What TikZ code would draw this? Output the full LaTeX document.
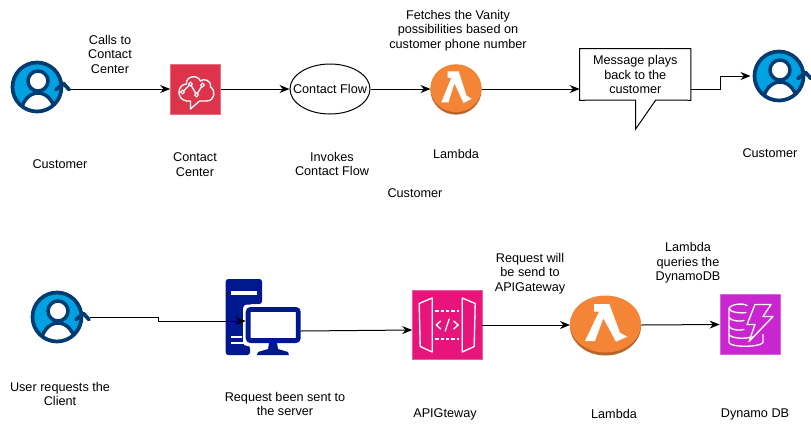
\documentclass[tikz,border=0pt]{standalone}
\usepackage{fontspec}
\setmainfont{Liberation Sans}
\usetikzlibrary{arrows.meta,shapes.geometric}
\definecolor{ublue}{HTML}{00A1E0}
\definecolor{udark}{HTML}{003B71}
\definecolor{ccred}{HTML}{DD344C}
\definecolor{lorange}{HTML}{F58536}
\definecolor{lshade}{HTML}{B8652C}
\definecolor{apipink}{HTML}{E7157B}
\definecolor{dynpurple}{HTML}{C925D1}
\definecolor{srvblue}{HTML}{00188F}
\tikzset{
  x=0.75pt,y=-0.75pt,
  lbl/.style={font=\fontsize{9.5}{10.9}\selectfont,align=center,text=black,inner sep=0pt},
  conn/.style={draw=black,line width=0.75pt,-{Stealth[length=7.5pt,width=6pt]}},
  slot/.style={inner sep=0pt,minimum width=#1,outer sep=0pt},
  wln/.style={draw=white,line width=1pt,line join=round,line cap=round},
  pics/usericon/.style={code={
    \begin{scope}
      \clip (0,0) circle[radius=24.5];
      \fill[ublue] (0,0) circle[radius=24.5];
      \fill[white,draw=udark,line width=2.6pt] (1,27) ellipse[x radius=17,y radius=21];
    \end{scope}
    \draw[udark,line width=2.8pt] (0,0) circle[radius=24.5];
    \fill[white,draw=udark,line width=2.6pt] (1,-6) circle[radius=10];
    \draw[udark,line width=2.8pt,line cap=round,line join=round] (19,2.5) -- (26.5,-3.5) -- (32,2.5);
  }},
  pics/lambdaicon/.style={code={
    \fill[lshade] (0,1) ellipse[x radius=35.5,y radius=29.5];
    \fill[lorange] (0,-1) ellipse[x radius=35.5,y radius=28.5];
    \fill[white] (-11.5,-21) -- (3.8,-21) -- (14.5,7.7) -- (21.8,11.7) -- (10.5,16.7)
      -- (-2.2,-6.7) -- (-10.5,16) -- (-20.5,16) -- (-6.5,-13.3) -- (-11.5,-13.3) -- cycle;
  }},
}
\begin{document}
\begin{tikzpicture}
\useasboundingbox[fill=white] (0,0) rectangle (811,430);

% ---- top row nodes
\node[slot=43.5pt,minimum height=40pt] (cust1) at (41,89) {};
\pic at (37,87) {usericon};
\node[fill=ccred,draw=ccred!70!white,line width=0.5pt,minimum width=37.5pt,minimum height=37.5pt,inner sep=0pt] (cc) at (195.5,89) {};
\begin{scope}[shift={(195.5,89)}]
  \draw[wln] (-5,12) -- (-5,20) -- (4,12) -- (11,12)
    .. controls (19,12) and (21,2) .. (15,-2)
    .. controls (16,-9) and (8,-11) .. (5,-8)
    .. controls (2,-15) and (-10,-13) .. (-9,-5)
    .. controls (-18,-5) and (-20,10) .. (-9,12) -- (-5,12);
  \draw[wln] (-13,3) -- (-5,-5) -- (1,6) -- (7,-4);
  \foreach \p in {(-13,3),(-5,-5),(1,6),(7,-4)} \fill[ccred,draw=white,line width=0.7pt] \p circle[radius=1.9];
\end{scope}
\node[draw=black,fill=white,ellipse,line width=0.75pt,minimum width=60pt,minimum height=37.5pt,inner sep=0pt,lbl] (flow) at (330,89) {\makebox[0pt]{Contact Flow}};
\node[slot=38.25pt,minimum height=37.5pt] (lam1) at (456,89) {};
\pic[xscale=0.72,yscale=0.84] at (456,89) {lambdaicon};
\node[lbl,minimum width=83pt,minimum height=38.25pt] (msg) at (635.3,74.5) {Message plays\\back to the\\customer};
\draw[black,line width=0.75pt,line join=miter] (msg.north west) -- (msg.north east) -- (msg.south east)
  -- (655.7,100) -- (635.7,129) -- (635.7,100) -- (msg.south west) -- cycle;
\node[slot=42.75pt,minimum height=40pt] (cust2) at (779,76) {};
\pic at (779,76) {usericon};

% ---- top labels
\node[lbl] (tcalls) at (110,54) {Calls to\\Contact\\Center};
\node[lbl] (tcust1) at (60,164) {Customer};
\node[lbl] (tcc) at (195,164.5) {Contact\\Center};
\node[lbl] (tinv) at (332,164) {Invokes\\Contact Flow};
\node[lbl] (tlam1) at (456,154) {Lambda};
\node[lbl] (tcustm) at (415,193) {Customer};
\node[lbl] (tcust2) at (770,153) {Customer};
\node[lbl] (tfetch) at (458,30.5) {Fetches the Vanity\\possibilities based on\\customer phone number};

% ---- bottom row nodes
\node[slot=43.5pt,minimum height=40pt] (user) at (61,317) {};
\pic at (57,317) {usericon};
% server
\fill[srvblue,rounded corners=2pt] (225.7,279) -- (262,279) -- (262,304) -- (250,304) -- (245,309) -- (245,343) -- (250,346) -- (250,355) -- (225.7,355) -- cycle;
\fill[white] (231,290.5) rectangle (257,294.5);
\fill[white] (231,336) rectangle (242,338);
\fill[white] (231,342) rectangle (247,344);
\fill[white,rounded corners=3pt] (243,304.5) rectangle (303,346);
\node[fill=white,draw=srvblue,line width=3.6pt,rounded corners=2pt,minimum width=37.6pt,minimum height=23.4pt,inner sep=0pt] (srv) at (273.2,325) {};
\fill[srvblue] (269,343) -- (277,343) -- (278,349) -- (288,352) -- (289,355) -- (257,355) -- (258,352) -- (268,349) -- cycle;
% api gateway
\node[fill=apipink,draw=apipink!70!white,line width=0.5pt,minimum width=52pt,minimum height=52pt,inner sep=0pt] (api) at (447.2,325) {};
\begin{scope}[shift={(447.2,325)}]
  \draw[wln] (-15,-27) -- (-28,-21.5) -- (-27,21.5) -- (-15,27) -- cycle;
  \draw[wln] (15,-27) -- (28,-21.5) -- (27,21.5) -- (15,27) -- cycle;
  \draw[wln,dash pattern=on 2.5pt off 1.5pt,line cap=butt] (-12,-14) -- (12,-14);
  \draw[wln,dash pattern=on 2.5pt off 1.5pt,line cap=butt] (-12,14) -- (12,14);
  \draw[wln] (-6.5,-4) -- (-11,0) -- (-6.5,4);
  \draw[wln] (6.5,-4) -- (11,0) -- (6.5,4);
  \draw[wln] (2,-6) -- (-2,6);
\end{scope}
\node[slot=53.25pt,minimum height=45pt] (lam2) at (605.5,325) {};
\pic at (605.5,325) {lambdaicon};
\node[fill=dynpurple,draw=dynpurple!70!white,line width=0.5pt,minimum width=45pt,minimum height=45pt,inner sep=0pt] (dyn) at (750,324.5) {};
\begin{scope}[shift={(750,324.5)}]
  \draw[wln] (-3,-19) .. controls (-8,-22) and (-20,-20) .. (-21,-16) .. controls (-20,-12) and (-9,-11) .. (-4,-12);
  \draw[wln] (-21,-16) -- (-21,18) .. controls (-20,23) and (10,23) .. (13,18) -- (13,10);
  \draw[wln] (-21,-7) .. controls (-19,-3) and (-9,-3) .. (-6,-4);
  \draw[wln] (-21,2) .. controls (-19,6) and (-9,6) .. (-6,5);
  \draw[wln] (-21,10) .. controls (-19,14) and (-4,15) .. (2,12);
  \draw[wln] (5,-20) -- (21,-20) -- (13,-8) -- (23,-8) -- (-1,17) -- (5,0) -- (-3,0) -- cycle;
\end{scope}

% ---- bottom labels
\node[lbl] (tuser) at (60,394) {User requests the\\Client};
\node[lbl] (tsrv) at (285,404) {Request been sent to\\the server};
\node[lbl] (tapi) at (445,414) {APIGteway};
\node[lbl] (tlam2) at (614,414) {Lambda};
\node[lbl] (tdyn) at (755,414) {Dynamo DB};
\node[lbl] (treq) at (530,273.5) {Request will\\be send to\\APIGateway};
\node[lbl] (tquery) at (688,263) {Lambda\\queries the\\DynamoDB};

% ---- connectors
\draw[conn] (cust1.east) -- (cc.west);
\draw[conn] (cc.east) -- (flow.west);
\draw[conn] (flow.east) -- (lam1.west);
\draw[conn] (lam1.east) -- (msg.west |- lam1.east);
\draw[conn] (msg.east |- lam1.east) -- (720,89) -- (720,76) -- (cust2.west);
\draw[conn] (user.east) -- (158,317) -- (158,321) -- (srv.west |- 0,321);
\draw[conn] (srv.east |- 0,331) -- (api.west |- 0,330);
\draw[conn] (api.east) -- (lam2.west);
\draw[conn] (lam2.east) -- (dyn.west);
\end{tikzpicture}
\end{document}
